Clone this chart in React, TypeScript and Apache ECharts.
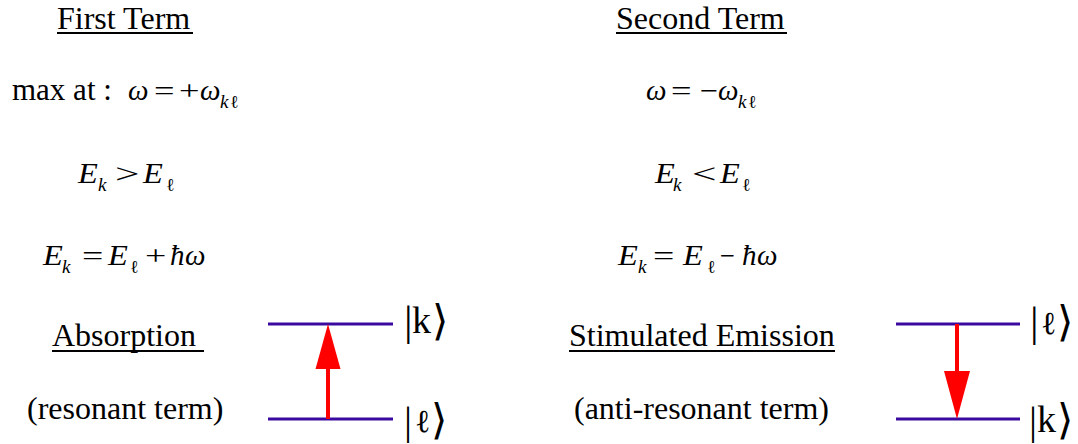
import React, { useEffect, useRef } from "react";
import * as echarts from "echarts";

// ---- content ----
const termTitles = ["First Term", "Second Term"];
const maxAtLabel = "max at :";
const resonanceEq = [
  ["ω", "=", "+", "ω", "k", "ℓ"],
  ["ω", "=", "−", "ω", "k", "ℓ"],
];
const energyOrder = [
  ["E", "k", ">", "E", "ℓ"],
  ["E", "k", "<", "E", "ℓ"],
];
const energyBalance = [
  ["E", "k", "=", "E", "ℓ", "+", "ħ", "ω"],
  ["E", "k", "=", "E", "ℓ", "−", "ħ", "ω"],
];
const processNames = ["Absorption ", "Stimulated Emission"];
const termKinds = ["(resonant term)", "(anti-resonant term)"];
const upperStates = ["k", "ℓ"];
const lowerStates = ["ℓ", "k"];

// ---- layout ----
const FAM = "'Liberation Serif', 'Times New Roman', 'DejaVu Sans', serif";
const LEVEL_COLOR = "#3a0aa0";
const ARROW_COLOR = "#ff0000";

// [x, kind, scaleX]
const resX: any[] = [
  [[128, "v"], [154, "o", 1.3], [179, "o", 1.3], [200, "v"], [220, "s"], [230, "s"]],
  [[646, "v"], [671, "o", 1.3], [700, "o", 1.15], [718, "v"], [738, "s"], [748, "s"]],
];
const orderX: any[] = [
  [[78, "E"], [98, "s"], [115, "o", 1.55], [143, "E"], [166, "s"]],
  [[655, "E"], [673, "s"], [692, "o", 1.55], [720, "E"], [742, "s"]],
];
const balanceX: any[] = [
  [[43, "E"], [62, "s"], [82, "o", 1.35], [108, "E"], [130, "s"], [145, "o", 1.35], [170, "v"], [185, "v"]],
  [[618, "E"], [638, "s"], [653, "o", 1.35], [683, "E"], [707, "s"], [720, "o", 0.95], [742, "v"], [757, "v"]],
];

function T(text: string, x: number, base: number, size: number, opts: any = {}) {
  return {
    type: "text",
    x,
    y: base - 0.3375 * size,
    scaleX: opts.sx || 1,
    silent: true,
    style: {
      text,
      x: 0,
      y: 0,
      fill: "#000",
      fontSize: size,
      fontFamily: opts.family || FAM,
      fontStyle: opts.italic ? "italic" : "normal",
      verticalAlign: "middle",
      align: "left",
    },
  };
}

function mathPiece(text: string, spec: any, base: number) {
  const x = spec[0];
  const kind = spec[1];
  if (kind === "v") return T(text, x, base, 29, { italic: true });
  if (kind === "E") return T(text, x, base, 29, { italic: true, sx: 1.12 });
  if (kind === "o") return T(text, x, base, 28, { sx: spec[2] || 1 });
  // subscript
  if (text === "ℓ") return T(text, x, base + 8, 18, {});
  return T(text, x, base + 8, 19, { italic: true });
}

function line(x1: number, y1: number, x2: number, y2: number, stroke: string, w: number) {
  return {
    type: "line",
    silent: true,
    shape: { x1, y1, x2, y2 },
    style: { stroke, lineWidth: w, lineCap: "butt" },
  };
}

function ket(state: string, bx: number, cy: number, barSize: number) {
  const els: any[] = [];
  els.push(T("|", bx - 3, cy + 12, barSize, {}));
  if (state === "k") {
    els.push(T("k", bx + 5, cy + 10, 38, {}));
    els.push(T("⟩", bx + 25, cy + 12, 42, { family: "'DejaVu Sans', sans-serif" }));
  } else {
    els.push(T("ℓ", bx + 8, cy + 10, 32, {}));
    els.push(T("⟩", bx + 24, cy + 12, 42, { family: "'DejaVu Sans', sans-serif" }));
  }
  return els;
}

function buildElements() {
  const els: any[] = [];
  // titles
  const titleX = [57, 616];
  const titleW = [136, 171];
  termTitles.forEach((t, i) => {
    els.push(T(t, titleX[i], 29, 32));
    els.push(line(titleX[i], 33, titleX[i] + titleW[i], 33, "#000", 2));
  });
  els.push(T(maxAtLabel, 12, 100, 31));
  resonanceEq.forEach((eq, i) => eq.forEach((p, j) => els.push(mathPiece(p, resX[i][j], 100))));
  energyOrder.forEach((eq, i) => eq.forEach((p, j) => els.push(mathPiece(p, orderX[i][j], 183))));
  energyBalance.forEach((eq, i) => eq.forEach((p, j) => els.push(mathPiece(p, balanceX[i][j], 265))));

  // process names
  const procX = [52, 569];
  const procW = [152, 266];
  processNames.forEach((t, i) => {
    els.push(T(t, procX[i], 346, 32));
    els.push(line(procX[i], 351, procX[i] + procW[i], 351, "#000", 2));
  });
  const kindX = [27, 574];
  termKinds.forEach((t, i) => els.push(T(t, kindX[i], 419, 32)));

  // level diagrams
  const lv = [
    { x1: 268, x2: 393, ax: 328, ketX: [407, 407], ketY: [323, 422] },
    { x1: 896, x2: 1020, ax: 957, ketX: [1033, 1032], ketY: [324, 422] },
  ];
  const yUp = 324;
  const yLo = 419;
  lv.forEach((d, i) => {
    els.push(line(d.x1, yUp, d.x2, yUp, LEVEL_COLOR, 3));
    els.push(line(d.x1, yLo, d.x2, yLo, LEVEL_COLOR, 3));
    if (i === 0) {
      els.push(line(d.ax, yLo, d.ax, 366, ARROW_COLOR, 4));
      els.push({
        type: "polygon",
        silent: true,
        shape: { points: [[d.ax, yUp], [d.ax - 12.5, 369], [d.ax + 12.5, 369]] },
        style: { fill: ARROW_COLOR },
      });
    } else {
      els.push(line(d.ax, yUp, d.ax, 374, ARROW_COLOR, 4));
      els.push({
        type: "polygon",
        silent: true,
        shape: { points: [[d.ax, yLo], [d.ax - 13, 371], [d.ax + 13, 371]] },
        style: { fill: ARROW_COLOR },
      });
    }
    ket(upperStates[i], d.ketX[0], d.ketY[0], 43).forEach((e) => els.push(e));
    ket(lowerStates[i], d.ketX[1], d.ketY[1], 40).forEach((e) => els.push(e));
  });
  return els;
}

export default function App() {
  const ref = useRef<HTMLDivElement>(null);
  useEffect(() => {
    if (!ref.current) return;
    const chart = echarts.init(ref.current, null, { renderer: "svg" });
    chart.setOption({
      animation: false,
      backgroundColor: "#ffffff",
      graphic: { elements: buildElements() },
    });
    return () => chart.dispose();
  }, []);
  return (
    <div
      ref={ref}
      style={{ position: "fixed", left: 0, top: 0, width: 1078, height: 444, background: "#fff" }}
    />
  );
}
